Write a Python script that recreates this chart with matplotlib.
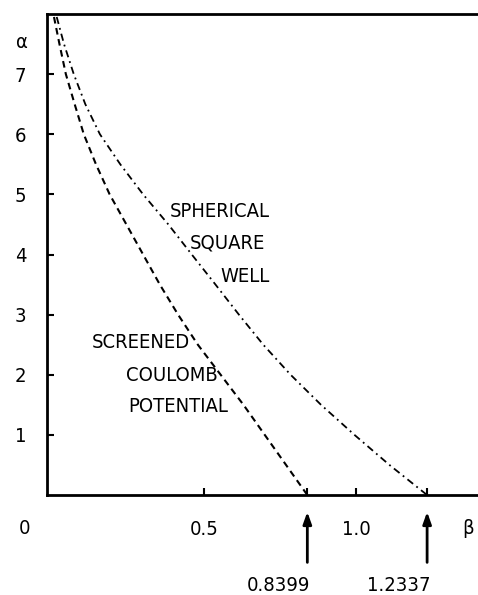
import matplotlib
matplotlib.use("Agg")
import matplotlib.pyplot as plt

# ── data ────────────────────────────────────────────────────────────────────
alpha_pts = [7.95, 7.5, 7.0, 6.5, 6.0, 5.5, 5.0, 4.5, 4.0, 3.5, 3.0, 2.5, 2.0, 1.5, 1.0, 0.5, 0.0]
beta_coulomb = [0.007, 0.025, 0.046, 0.075, 0.105, 0.145, 0.19, 0.245, 0.30, 0.355, 0.415,
                0.48, 0.555, 0.63, 0.70, 0.77, 0.8399]
beta_well = [0.016, 0.04, 0.072, 0.11, 0.158, 0.225, 0.30, 0.383, 0.46, 0.538, 0.615,
             0.695, 0.785, 0.885, 0.995, 1.11, 1.2337]
limits = [0.8399, 1.2337]
limit_labels = ["0.8399", "1.2337"]
yticks = [1, 2, 3, 4, 5, 6, 7]

plt.rcParams["font.family"] = ["DejaVu Sans"]
plt.rcParams["font.stretch"] = "condensed"
FS = 14.5

fig = plt.figure(figsize=(4.78, 5.95), dpi=100)
ax = fig.add_axes([0.0983, 0.168, 0.9017, 0.8085])

ax.plot(beta_coulomb, alpha_pts, color="black", lw=1.5, linestyle=(0, (3.2, 2.2)))
ax.plot(beta_well, alpha_pts, color="black", lw=1.3, linestyle=(0, (4.0, 2.3, 1.0, 2.3)))

ax.set_xlim(-0.016, 1.401)
ax.set_ylim(0, 8.0)

for side in ["left", "bottom", "top"]:
    ax.spines[side].set_linewidth(2)
ax.spines["right"].set_visible(False)

ax.set_xticks([0.5, limits[0], 1.0, limits[1]])
ax.set_xticklabels(["0.5", "", "1.0", ""])
ax.set_yticks(yticks)
ax.set_yticklabels([str(t) for t in yticks])
ax.tick_params(axis="x", direction="in", length=5, width=1.5, pad=18, labelsize=FS)
ax.tick_params(axis="y", direction="in", length=5, width=1.5, pad=15, labelsize=FS)

# axis letters and origin
ax.text(-0.089, -0.55, "0", fontsize=FS, ha="center", va="center", clip_on=False)
ax.text(1.368, -0.55, "β", fontsize=FS, ha="center", va="center", clip_on=False)
ax.text(-0.099, 7.52, "α", fontsize=FS, ha="center", va="center", clip_on=False)

# curve labels
ax.text(0.717, 4.71, "SPHERICAL", fontsize=FS, ha="right", va="center")
ax.text(0.70, 4.19, "SQUARE", fontsize=FS, ha="right", va="center")
ax.text(0.717, 3.64, "WELL", fontsize=FS, ha="right", va="center")
ax.text(0.13, 2.53, "SCREENED", fontsize=FS, ha="left", va="center")
ax.text(0.245, 1.98, "COULOMB", fontsize=FS, ha="left", va="center")
ax.text(0.25, 1.48, "POTENTIAL", fontsize=FS, ha="left", va="center")

# arrows marking the zero crossings
for b, lab in zip(limits, limit_labels):
    ax.annotate("", xy=(b, -0.28), xytext=(b, -1.12), annotation_clip=False,
                arrowprops=dict(arrowstyle="-|>,head_length=0.7,head_width=0.25",
                                color="black", lw=2, shrinkA=0, shrinkB=0))
    ax.text(b + 0.01, -1.5, lab, fontsize=FS, ha="right", va="center", clip_on=False)

fig.savefig("out.png", dpi=100)
